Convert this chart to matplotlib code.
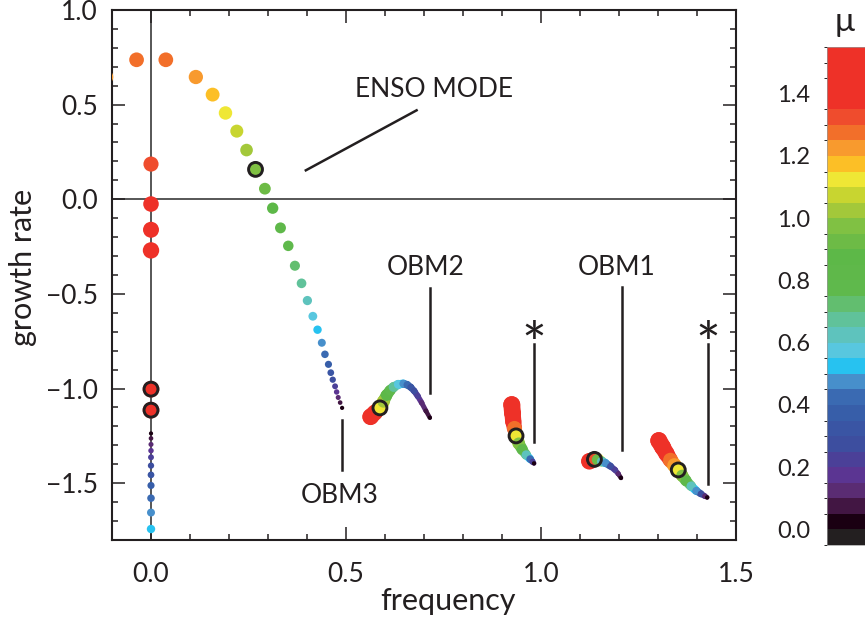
import numpy as np
import matplotlib
matplotlib.use("Agg")
import matplotlib.pyplot as plt
from matplotlib.colors import ListedColormap, BoundaryNorm
from matplotlib.collections import LineCollection
from matplotlib.cm import ScalarMappable
from matplotlib.ticker import MultipleLocator

plt.rcParams['font.family'] = ['Lato', 'DejaVu Sans']
ink = '#231f20'

# colour bands of mu (0.05 wide, from -0.05 up to 1.55), bottom to top
band_colors = ['#231f20', '#1a0012', '#421643', '#5a2c73', '#5b3592', '#4b4098',
               '#3d4e9f', '#3a55a4', '#375ea9', '#3a6ab2', '#478fcb', '#27c2f0',
               '#58c7df', '#5ec3bd', '#60c29a', '#62be6f', '#5fb94c', '#5fb84a',
               '#5db848', '#6dbb46', '#80c143', '#a3c83a', '#c8d530', '#efe735',
               '#fcbf26', '#f89a2e', '#f26f2a', '#ef4c2d',
               '#ee3128', '#ee3128', '#ee3128', '#ee3128']
cb_ticks = [0.0, 0.2, 0.4, 0.6, 0.8, 1.0, 1.2, 1.4]

# ENSO mode, positive frequency
enso_x = [0.038, 0.115, 0.158, 0.191, 0.220, 0.245, 0.268, 0.292, 0.312, 0.332,
          0.352, 0.369, 0.386, 0.401, 0.415, 0.427, 0.438, 0.446, 0.455, 0.461,
          0.466, 0.472, 0.476, 0.480, 0.485, 0.490]
enso_y = [0.737, 0.646, 0.553, 0.456, 0.360, 0.260, 0.158, 0.056, -0.047, -0.151,
          -0.246, -0.351, -0.444, -0.535, -0.618, -0.689, -0.758, -0.819, -0.872, -0.916,
          -0.953, -0.988, -1.018, -1.047, -1.074, -1.102]
enso_mu = [1.275, 1.225, 1.175, 1.125, 1.075, 1.025, 0.975, 0.925, 0.875, 0.825,
           0.775, 0.725, 0.675, 0.625, 0.575, 0.525, 0.475, 0.425, 0.375, 0.325,
           0.275, 0.225, 0.175, 0.125, 0.075, 0.025]
# mirrored (negative frequency) ENSO points
mirror_x = [-0.037, -0.115]
mirror_y = [0.737, 0.646]
mirror_mu = [1.275, 1.225]

# real (zero frequency) modes
zero_y = [0.186, -0.025, -0.161, -0.270, -1.003, -1.114,
          -1.237, -1.263, -1.295, -1.328, -1.363, -1.407, -1.456, -1.512, -1.579, -1.655, -1.742]
zero_mu = [1.325, 1.375, 1.425, 1.475, 1.5, 1.5,
           0.025, 0.075, 0.125, 0.175, 0.225, 0.275, 0.325, 0.375, 0.425, 0.475, 0.525]

# OBM3 / OBM2 branch
a_x = [0.563, 0.575, 0.587, 0.596, 0.604, 0.613, 0.622, 0.634, 0.647, 0.657, 0.666,
       0.675, 0.684, 0.694, 0.705, 0.715]
a_y = [-1.149, -1.125, -1.102, -1.068, -1.035, -1.010, -0.992, -0.978, -0.974, -0.980,
       -0.993, -1.013, -1.040, -1.075, -1.118, -1.154]
a_mu = [1.5, 1.35, 1.15, 1.0, 0.88, 0.78, 0.68, 0.56, 0.46, 0.40, 0.34, 0.28, 0.22,
        0.15, 0.08, 0.025]

# branch marked * near 0.95
b_x = [0.925, 0.927, 0.929, 0.932, 0.936, 0.943, 0.952, 0.962, 0.972, 0.978, 0.982]
b_y = [-1.085, -1.130, -1.175, -1.210, -1.250, -1.290, -1.322, -1.350, -1.372, -1.386, -1.395]
b_mu = [1.55, 1.5, 1.42, 1.28, 1.12, 0.95, 0.80, 0.60, 0.40, 0.20, 0.03]

# OBM1 branch
c_x = [1.124, 1.137, 1.145, 1.155, 1.165, 1.178, 1.190, 1.198, 1.205]
c_y = [-1.384, -1.374, -1.376, -1.385, -1.393, -1.410, -1.430, -1.450, -1.472]
c_mu = [1.5, 1.3, 0.9, 0.6, 0.45, 0.30, 0.20, 0.12, 0.03]

# branch marked * near 1.4
d_x = [1.302, 1.312, 1.322, 1.332, 1.342, 1.352, 1.362, 1.372, 1.385, 1.398, 1.410, 1.420, 1.426]
d_y = [-1.275, -1.310, -1.345, -1.378, -1.405, -1.430, -1.460, -1.487, -1.515, -1.540,
       -1.556, -1.568, -1.575]
d_mu = [1.55, 1.5, 1.42, 1.28, 1.2, 1.1, 0.95, 0.8, 0.62, 0.45, 0.3, 0.15, 0.03]

# circled reference points
circ_x = [0.268, 0.0, 0.0, 0.587, 0.936, 1.137, 1.352]
circ_y = [0.158, -1.003, -1.114, -1.102, -1.250, -1.374, -1.430]

cmap = ListedColormap(band_colors)
norm = BoundaryNorm(np.linspace(-0.05, 1.55, 33), cmap.N)


def diam(mu):
    # marker diameter in points
    return 0.72 * (4 + 8.4 * np.asarray(mu))


fig = plt.figure(figsize=(8.65, 6.19), dpi=100)
ax = fig.add_axes([112 / 865, 1 - 540 / 619, 624 / 865, 530 / 619])

ax.axvline(0, color='#3a3a3a', lw=1.2, zorder=1)
ax.axhline(0, color='#3a3a3a', lw=1.2, zorder=1)


def dots(x, y, mu):
    ax.scatter(x, y, s=diam(mu) ** 2, c=mu, cmap=cmap, norm=norm,
               edgecolors='none', zorder=3)


def tube(x, y, mu):
    pts = np.column_stack([x, y])
    segs = [pts[i:i + 2] for i in range(len(x) - 1)]
    mids = [(mu[i] + mu[i + 1]) / 2 for i in range(len(x) - 1)]
    lc = LineCollection(segs, colors=cmap(norm(mids)), linewidths=diam(mids),
                        capstyle='round', joinstyle='round', zorder=3)
    ax.add_collection(lc)
    dots(x, y, mu)


dots(enso_x, enso_y, enso_mu)
dots(mirror_x, mirror_y, mirror_mu)
dots([0.0] * len(zero_y), zero_y, zero_mu)
for bx, by, bm in [(a_x, a_y, a_mu), (b_x, b_y, b_mu), (c_x, c_y, c_mu), (d_x, d_y, d_mu)]:
    tube(bx, by, bm)

ax.scatter(circ_x, circ_y, s=10 ** 2, facecolors='none', edgecolors=ink,
           linewidths=2.1, zorder=4)

# annotations
lab = dict(color=ink, fontsize=19)
ax.plot([0.397, 0.681], [0.153, 0.470], color=ink, lw=1.8)
ax.text(0.523, 0.579, 'ENSO MODE', ha='left', va='center', **lab)
ax.plot([0.715, 0.715], [-0.468, -1.026], color=ink, lw=1.8)
ax.text(0.705, -0.363, 'OBM2', ha='center', va='center', **lab)
ax.plot([0.491, 0.491], [-1.168, -1.430], color=ink, lw=1.8)
ax.text(0.485, -1.563, 'OBM3', ha='center', va='center', **lab)
ax.plot([1.207, 1.207], [-0.463, -1.325], color=ink, lw=1.8)
ax.text(1.195, -0.363, 'OBM1', ha='center', va='center', **lab)
ax.plot([0.982, 0.982], [-0.767, -1.284], color=ink, lw=1.8)
ax.text(0.982, -0.868, '*', ha='center', va='baseline', color=ink, fontsize=42)
ax.plot([1.427, 1.427], [-0.767, -1.504], color=ink, lw=1.8)
ax.text(1.427, -0.868, '*', ha='center', va='baseline', color=ink, fontsize=42)

ax.set_xlim(-0.1, 1.5)
ax.set_ylim(-1.8, 1.0)
ax.set_xticks([0.0, 0.5, 1.0, 1.5])
ax.set_yticks([-1.5, -1.0, -0.5, 0.0, 0.5, 1.0])
ax.xaxis.set_minor_locator(MultipleLocator(0.1))
ax.yaxis.set_minor_locator(MultipleLocator(0.1))
ax.tick_params(which='both', direction='in', top=True, right=True, color=ink,
               width=1.1, labelsize=19, labelcolor=ink)
ax.tick_params(which='major', length=9.4)
ax.tick_params(which='minor', length=4.5)
ax.tick_params(axis='x', pad=16)
ax.tick_params(axis='y', pad=10)
for sp in ax.spines.values():
    sp.set_linewidth(1.5)
    sp.set_color(ink)

ax.set_xlabel('frequency', fontsize=22, color=ink)
ax.set_ylabel('growth rate', fontsize=22, color=ink)
ax.xaxis.set_label_coords(0.538, -0.088)
ax.yaxis.set_label_coords(-0.12, 0.514)

cax = fig.add_axes([827 / 865, 1 - 545 / 619, 38 / 865, 498 / 619])
cb = fig.colorbar(ScalarMappable(norm=norm, cmap=cmap), cax=cax, ticks=cb_ticks)
cax.yaxis.set_ticks_position('left')
cax.tick_params(length=0, labelsize=17, labelcolor=ink, pad=12)
cb.outline.set_linewidth(0.5)
cb.outline.set_edgecolor('#999999')
fig.text(845 / 865, 1 - 22 / 619, 'μ', ha='center', va='center', fontsize=24, color=ink)

fig.savefig('out.png', dpi=100)
